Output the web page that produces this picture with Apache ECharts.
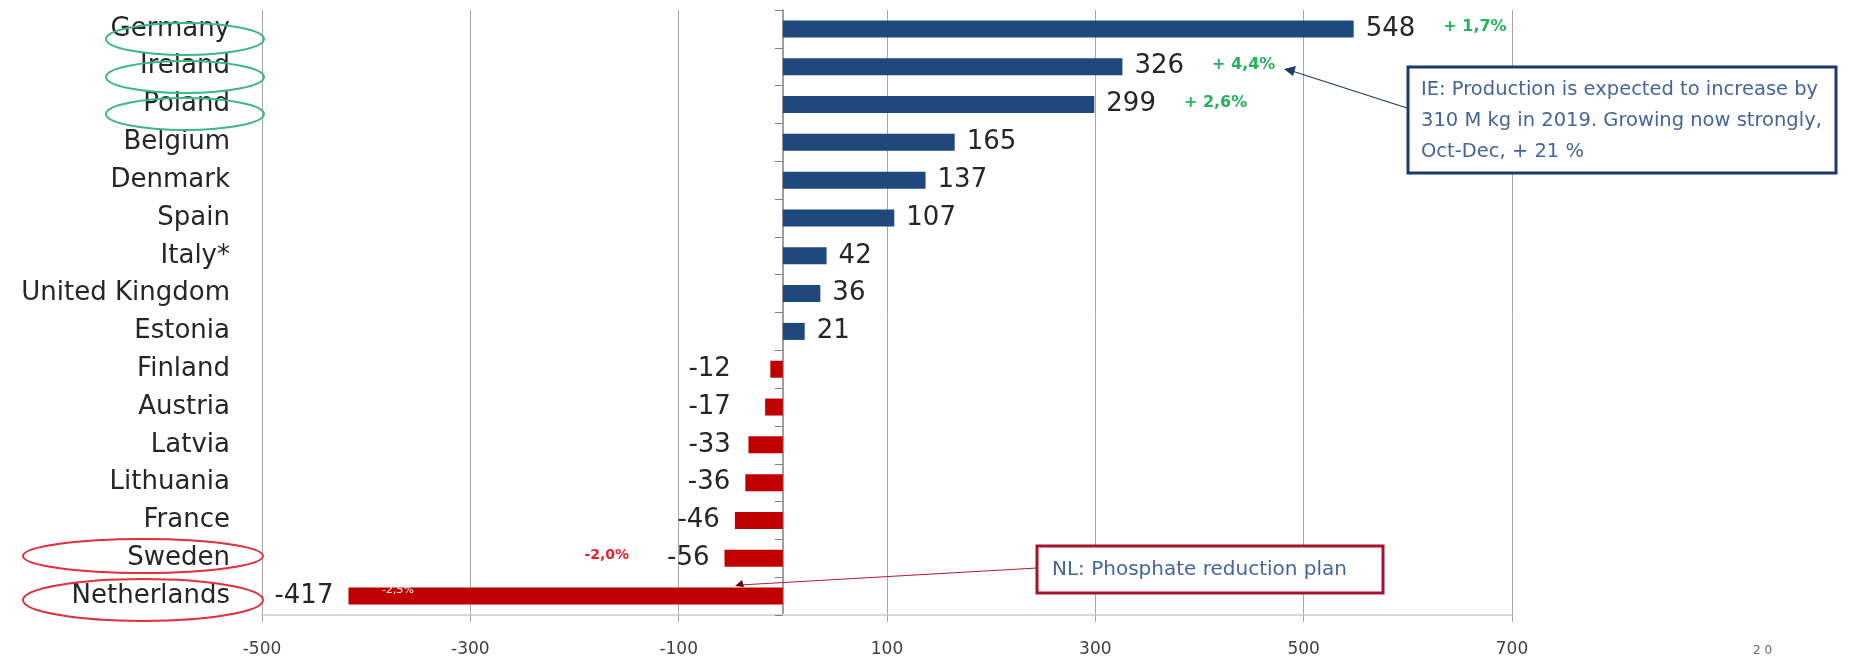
<!DOCTYPE html>
<html><head><meta charset="utf-8">
<script src="https://cdn.jsdelivr.net/npm/echarts@6/dist/echarts.min.js"></script>
<style>html,body{margin:0;padding:0;background:#fff}#c{width:1856px;height:659px}</style>
</head><body><div id="c"></div>
<script>
const countries = ['Germany','Ireland','Poland','Belgium','Denmark','Spain','Italy*','United Kingdom','Estonia','Finland','Austria','Latvia','Lithuania','France','Sweden','Netherlands'];
const values = [548,326,299,165,137,107,42,36,21,-12,-17,-33,-36,-46,-56,-417];
const changes = {Germany:'+ 1,7%', Ireland:'+ 4,4%', Poland:'+ 2,6%', Sweden:'-2,0%', Netherlands:'-2,5%'};
const xTicks = [-500,-300,-100,100,300,500,700];
const ieNote = ['IE: Production is expected to increase by','310 M kg in 2019. Growing now strongly,','Oct-Dec, + 21 %'];
const nlNote = 'NL: Phosphate reduction plan';
const pageNo = '2 0';

const FONT = 'DejaVu Sans';
const BLUE = '#1F497D', RED = '#C00000';
const chart = echarts.init(document.getElementById('c'));

const barData = values.map((v, i) => {
  const name = countries[i];
  const ch = changes[name];
  let label;
  if (v >= 0) {
    label = { position: 'right', distance: 12,
      formatter: ch ? '{v|' + v + '}{g|' + ch + '}' : '{v|' + v + '}' };
  } else {
    const extra = Math.max(0, (35.5 + v) * 1.04);
    label = { position: 'left', distance: 15 + extra,
      formatter: (ch && name !== 'Netherlands') ? '{r|' + ch + '}{v|' + v + '}' : '{v|' + v + '}' };
  }
  return { value: v, itemStyle: { color: v >= 0 ? BLUE : RED }, label };
});

const g = [];
[[185,39],[185,77],[185,114]].forEach(c => g.push({type:'ellipse', z:100, shape:{cx:c[0], cy:c[1], rx:79, ry:16}, style:{fill:'none', stroke:'#3cb880', lineWidth:2}}));
[[143,556,120,17],[143,600,120,21]].forEach(c => g.push({type:'ellipse', z:100, shape:{cx:c[0], cy:c[1], rx:c[2], ry:c[3]}, style:{fill:'none', stroke:'#e0303a', lineWidth:2}}));
g.push({type:'line', z:100, shape:{x1:1407, y1:108, x2:1292, y2:71}, style:{stroke:'#1b3a6b', lineWidth:1.2}});
g.push({type:'polygon', z:100, shape:{points:[[1284,69],[1296,66],[1293,76]]}, style:{fill:'#1b3a6b'}});
g.push({type:'rect', z:100, shape:{x:1408, y:67, width:428, height:106}, style:{fill:'#fff', stroke:'#1b3a6b', lineWidth:3}});
ieNote.forEach((t, i) => g.push({type:'text', z:101, x:1421, y:90 + i*31, style:{text:t, fill:'#44659b', font:'19.5px "' + FONT + '"', textVerticalAlign:'middle'}}));
g.push({type:'line', z:100, shape:{x1:1037, y1:568, x2:740, y2:585}, style:{stroke:'#b01c2e', lineWidth:1}});
g.push({type:'polygon', z:100, shape:{points:[[735,586],[742,580],[744,587]]}, style:{fill:'#5a0a10'}});
g.push({type:'rect', z:100, shape:{x:1037, y:546, width:346, height:47}, style:{fill:'#fff', stroke:'#a5122a', lineWidth:3}});
g.push({type:'text', z:101, x:1052, y:570, style:{text:nlNote, fill:'#44659b', font:'20px "' + FONT + '"', textVerticalAlign:'middle'}});
g.push({type:'text', z:101, x:382, y:590, style:{text:changes['Netherlands'], fill:'#ffffff', font:'11px "' + FONT + '"', textVerticalAlign:'middle'}});
g.push({type:'text', z:101, x:1753, y:651, style:{text:pageNo, fill:'#666', font:'12px "' + FONT + '"', textVerticalAlign:'middle'}});

chart.setOption({
  animation: false,
  backgroundColor: '#fff',
  grid: { left: 262, right: 344, top: 10, bottom: 44 },
  xAxis: {
    type: 'value', min: -500, max: 700,
    axisLine: { show: true, onZero: false, lineStyle: { color: '#d9d9d9', width: 2 } },
    axisTick: { show: true, customValues: xTicks, length: 7, lineStyle: { color: '#a6a6a6' } },
    axisLabel: { customValues: xTicks, fontSize: 17, color: '#404040', margin: 26, fontFamily: FONT },
    splitLine: { show: true, lineStyle: { color: '#a6a6a6', width: 1 } }
  },
  yAxis: [{
    type: 'category', data: countries, inverse: true,
    axisLine: { show: false, onZero: false }, axisTick: { show: false },
    axisLabel: { margin: 32, fontSize: 26, color: '#262626', fontFamily: FONT },
    splitLine: { show: false }
  }, {
    type: 'category', data: countries, inverse: true, position: 'left',
    axisLine: { show: true, onZero: true, lineStyle: { color: '#7f7f7f', width: 1.5 } },
    axisTick: { show: true, length: 8, lineStyle: { color: '#7f7f7f' } },
    axisLabel: { show: false }, splitLine: { show: false }
  }],
  series: [{
    type: 'bar', yAxisIndex: 0, barWidth: 17, data: barData,
    label: { show: true, fontFamily: FONT,
      rich: {
        v: { fontSize: 26, color: '#262626', fontFamily: FONT },
        g: { fontSize: 16, fontWeight: 'bold', color: '#22b35c', fontFamily: FONT, padding: [0, 0, 4, 28] },
        r: { fontSize: 14, fontWeight: 'bold', color: '#e8202a', fontFamily: FONT, padding: [0, 38, 6, 0] }
      } }
  }],
  graphic: g
});
</script></body></html>
